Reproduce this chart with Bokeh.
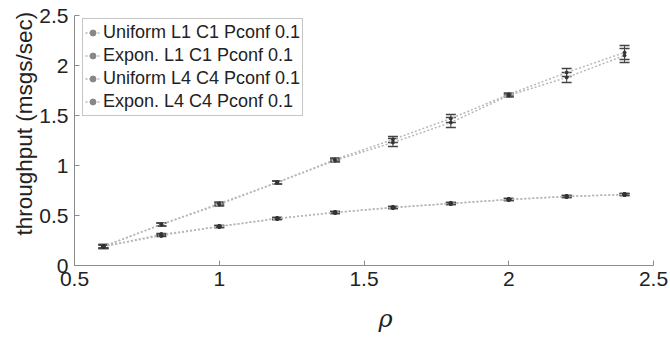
from bokeh.plotting import figure
from bokeh.models import ColumnDataSource, Whisker, TeeHead, Legend, LegendItem, Title, Range1d
from bokeh.embed import file_html
from bokeh.resources import INLINE

rho = [0.6, 0.8, 1.0, 1.2, 1.4, 1.6, 1.8, 2.0, 2.2, 2.4]
uni_l1 = [0.19, 0.41, 0.62, 0.83, 1.06, 1.26, 1.47, 1.71, 1.93, 2.13]
uni_l1_err = [0.02, 0.015, 0.015, 0.015, 0.015, 0.03, 0.04, 0.015, 0.04, 0.07]
exp_l1 = [0.19, 0.31, 0.39, 0.47, 0.53, 0.58, 0.62, 0.66, 0.69, 0.71]
exp_l1_err = [0.015, 0.01, 0.01, 0.01, 0.01, 0.01, 0.01, 0.01, 0.01, 0.01]
uni_l4 = [0.19, 0.41, 0.61, 0.83, 1.05, 1.23, 1.43, 1.70, 1.88, 2.10]
uni_l4_err = [0.02, 0.015, 0.015, 0.015, 0.015, 0.04, 0.05, 0.015, 0.05, 0.07]
exp_l4 = [0.19, 0.30, 0.39, 0.47, 0.53, 0.58, 0.62, 0.66, 0.69, 0.71]
exp_l4_err = [0.015, 0.01, 0.01, 0.01, 0.01, 0.01, 0.01, 0.01, 0.01, 0.01]

labels = ["Uniform L1 C1 Pconf 0.1", "Expon. L1 C1 Pconf 0.1",
          "Uniform L4 C4 Pconf 0.1", "Expon. L4 C4 Pconf 0.1"]
series = [uni_l1, exp_l1, uni_l4, exp_l4]
errors = [uni_l1_err, exp_l1_err, uni_l4_err, exp_l4_err]
marker_sizes = [3, 4, 3, 4]
legend_marker_sizes = [3, 4, 3, 4]

p = figure(width=670, height=347, output_backend="svg", toolbar_location=None,
           x_range=Range1d(0.5, 2.5), y_range=Range1d(0, 2.5),
           min_border_left=74, min_border_right=17, min_border_top=15, min_border_bottom=82)
p.outline_line_color = None
p.xgrid.visible = False
p.ygrid.visible = False
p.background_fill_color = "white"
p.border_fill_color = "white"

font = "Liberation Sans"
for ax in (p.xaxis, p.yaxis):
    ax.axis_line_color = "#8c8c8c"
    ax.major_tick_line_color = "#8c8c8c"
    ax.major_tick_in = 5
    ax.major_tick_out = 0
    ax.minor_tick_line_color = None
    ax.major_label_text_font = font
    ax.major_label_text_font_size = "21px"
    ax.major_label_text_color = "#222222"

p.xaxis.ticker = [0.5, 1, 1.5, 2, 2.5]
p.yaxis.ticker = [0, 0.5, 1, 1.5, 2, 2.5]
p.xaxis.major_label_standoff = 6
p.yaxis.major_label_standoff = 6

items = []
for lab, ys, es, ms, lms in zip(labels, series, errors, marker_sizes, legend_marker_sizes):
    src = ColumnDataSource(dict(x=rho, y=ys,
                                lo=[a - b for a, b in zip(ys, es)],
                                hi=[a + b for a, b in zip(ys, es)]))
    ln = p.line("x", "y", source=src, line_color="#b8b8b8", line_width=1.5, line_dash="2 2")
    p.scatter("x", "y", source=src, size=ms, color="#333333", marker="circle")
    w = Whisker(source=src, base="x", lower="lo", upper="hi",
                line_color="#444444", line_width=1,
                lower_head=TeeHead(size=10, line_color="#444444", line_width=1.5),
                upper_head=TeeHead(size=10, line_color="#444444", line_width=1.5))
    p.add_layout(w)
    lg = p.scatter(x=[0], y=[-5], size=lms, color="#888888", marker="circle")
    items.append(LegendItem(label=lab, renderers=[ln, lg]))

legend = Legend(items=items, location=(8, 149))
legend.label_text_font = font
legend.label_text_font_size = "18px"
legend.label_text_color = "#222222"
legend.border_line_color = "#8c8c8c"
legend.background_fill_alpha = 1
legend.margin = 0
legend.padding = 2
legend.spacing = 0
legend.glyph_width = 15
legend.glyph_height = 23
legend.label_height = 23
legend.label_standoff = 3
p.add_layout(legend)

ytitle = Title(text="throughput (msgs/sec)", align="left", offset=30,
               text_font=font, text_font_size="22.5px", text_font_style="normal",
               text_color="#222222", standoff=0)
p.add_layout(ytitle, "left")

xtitle = Title(text="ρ", align="left", offset=304, text_font="DejaVu Serif",
               text_font_size="24px", text_font_style="italic",
               text_color="#222222", standoff=29)
p.add_layout(xtitle, "below")

open("out.html", "w").write(file_html(p, INLINE))
